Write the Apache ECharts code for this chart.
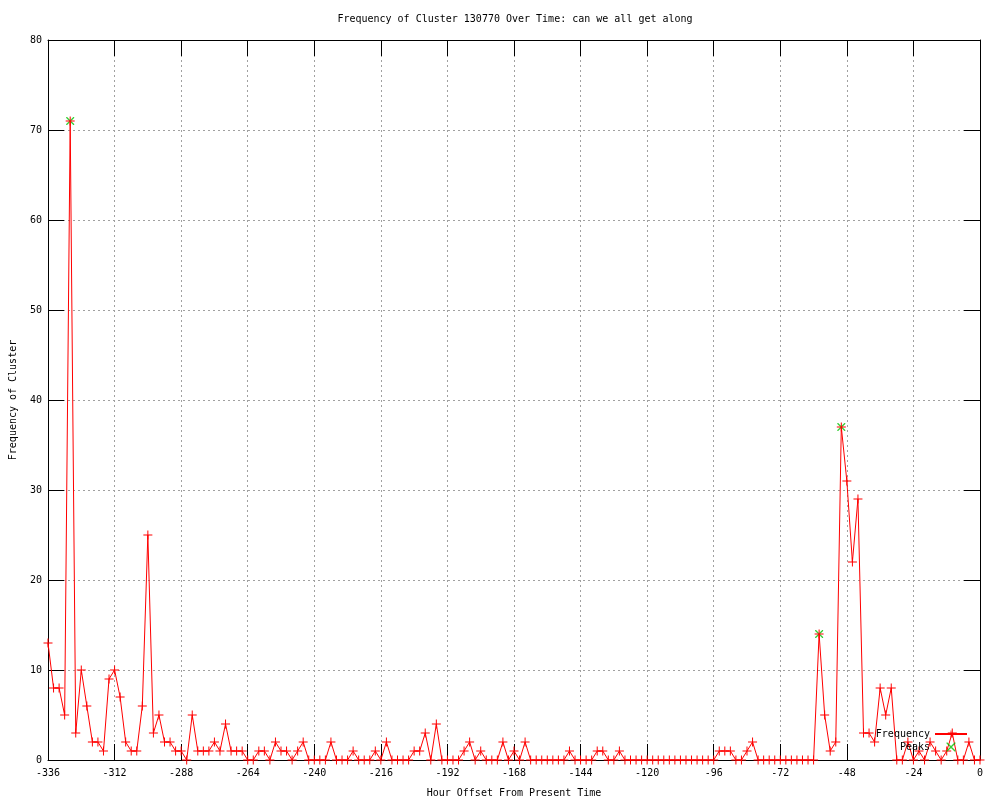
<!DOCTYPE html>
<html>
<head>
<meta charset="utf-8">
<script src="https://cdn.jsdelivr.net/npm/echarts@6/dist/echarts.min.js"></script>
<style>html,body{margin:0;padding:0;background:#fff}#c{width:1000px;height:800px}</style>
</head>
<body>
<div id="c"></div>
<script>
const titleText = 'Frequency of Cluster 130770 Over Time: can we all get along';
const xAxisTitle = 'Hour Offset From Present Time';
const yAxisTitle = 'Frequency of Cluster';

const hours = [
 -336,-334,-332,-330,-328,-326,-324,-322,-320,-318,-316,-314,-312,-310,-308,-306,-304,-302,-300,-298,
 -296,-294,-292,-290,-288,-286,-284,-282,-280,-278,-276,-274,-272,-270,-268,-266,-264,-262,-260,-258,
 -256,-254,-252,-250,-248,-246,-244,-242,-240,-238,-236,-234,-232,-230,-228,-226,-224,-222,-220,-218,
 -216,-214,-212,-210,-208,-206,-204,-202,-200,-198,-196,-194,-192,-190,-188,-186,-184,-182,-180,-178,
 -176,-174,-172,-170,-168,-166,-164,-162,-160,-158,-156,-154,-152,-150,-148,-146,-144,-142,-140,-138,
 -136,-134,-132,-130,-128,-126,-124,-122,-120,-118,-116,-114,-112,-110,-108,-106,-104,-102,-100,-98,
 -96,-94,-92,-90,-88,-86,-84,-82,-80,-78,-76,-74,-72,-70,-68,-66,-64,-62,-60,-58,
 -56,-54,-52,-50,-48,-46,-44,-42,-40,-38,-36,-34,-32,-30,-28,-26,-24,-22,-20,-18,
 -16,-14,-12,-10,-8,-6,-4,-2,0
];
const frequency = [
 13,8,8,5,71,3,10,6,2,2,1,9,10,7,2,1,1,6,25,3,
 5,2,2,1,1,0,5,1,1,1,2,1,4,1,1,1,0,0,1,1,
 0,2,1,1,0,1,2,0,0,0,0,2,0,0,0,1,0,0,0,1,
 0,2,0,0,0,0,1,1,3,0,4,0,0,0,0,1,2,0,1,0,
 0,0,2,0,1,0,2,0,0,0,0,0,0,0,1,0,0,0,0,1,
 1,0,0,1,0,0,0,0,0,0,0,0,0,0,0,0,0,0,0,0,
 0,1,1,1,0,0,1,2,0,0,0,0,0,0,0,0,0,0,0,14,
 5,1,2,37,31,22,29,3,3,2,8,5,8,0,0,2,0,1,0,2,
 1,0,1,3,0,0,2,0,0
];
const peakHours = [-328, -58, -50];
const peakValues = [71, 14, 37];
const xTicks = {min: -336, max: 0, interval: 24};
const yTicks = {min: 0, max: 80, interval: 10};

const freqData = hours.map((h, i) => [h, frequency[i]]);
const peakData = peakHours.map((h, i) => [h, peakValues[i]]);

const FONT = 'DejaVu Sans Mono';
const plusPath = 'path://M0,4H9V5H0Z M4,0H5V9H4Z';
const crossPath = 'path://M0,0L1,0L9,8L9,9L8,9L0,1Z M8,0L9,0L9,1L1,9L0,9L0,8Z';

const gridLine = {show: true, lineStyle: {color: '#a0a0a0', width: 1, type: [2, 3]}};
const axLine = {show: true, onZero: false, lineStyle: {color: '#000', width: 1}};
const tick = {show: true, inside: true, length: 16, lineStyle: {color: '#000', width: 1}};
const lbl = {color: '#000', fontFamily: FONT, fontSize: 10};

const chart = echarts.init(document.getElementById('c'), null, {renderer: 'canvas'});
chart.setOption({
  animation: false,
  backgroundColor: '#fff',
  title: {
    text: titleText, left: 510, top: 9, textAlign: 'center',
    textStyle: {fontFamily: FONT, fontSize: 10, fontWeight: 'normal', color: '#000'}
  },
  grid: {left: 48, right: 20, top: 40, bottom: 40, containLabel: false, outerBoundsMode: 'none'},
  legend: {
    orient: 'vertical', align: 'right', right: 32, top: 729,
    itemWidth: 32, itemHeight: 9, itemGap: 3, padding: 0,
    textStyle: {fontFamily: FONT, fontSize: 10, color: '#000'},
    data: ['Frequency', 'Peaks']
  },
  xAxis: [{
    type: 'value', min: xTicks.min, max: xTicks.max, interval: xTicks.interval,
    position: 'bottom',
    name: xAxisTitle, nameLocation: 'middle', nameGap: 28,
    nameTextStyle: {fontFamily: FONT, fontSize: 10, color: '#000'},
    axisLine: axLine, axisTick: tick, splitLine: gridLine,
    axisLabel: Object.assign({margin: 8}, lbl)
  }, {
    type: 'value', min: xTicks.min, max: xTicks.max, interval: xTicks.interval,
    position: 'top', axisLine: axLine, axisTick: tick, splitLine: {show: false},
    axisLabel: {show: false}
  }],
  yAxis: [{
    type: 'value', min: yTicks.min, max: yTicks.max, interval: yTicks.interval,
    position: 'left',
    name: yAxisTitle, nameLocation: 'middle', nameGap: 30, nameRotate: 90,
    nameTextStyle: {fontFamily: FONT, fontSize: 10, color: '#000'},
    axisLine: axLine, axisTick: tick, splitLine: gridLine,
    axisLabel: Object.assign({margin: 6}, lbl)
  }, {
    type: 'value', min: yTicks.min, max: yTicks.max, interval: yTicks.interval,
    position: 'right', axisLine: axLine, axisTick: tick, splitLine: {show: false},
    axisLabel: {show: false}
  }],
  series: [{
    name: 'Peaks', type: 'scatter', data: peakData,
    symbol: crossPath, symbolSize: 8,
    itemStyle: {color: '#00c000'}, z: 2
  }, {
    name: 'Frequency', type: 'line', data: freqData,
    symbol: plusPath, symbolSize: 9, showSymbol: true, clip: false,
    lineStyle: {color: '#ff0000', width: 1},
    itemStyle: {color: '#ff0000'}, z: 3
  }]
});
</script>
</body>
</html>
